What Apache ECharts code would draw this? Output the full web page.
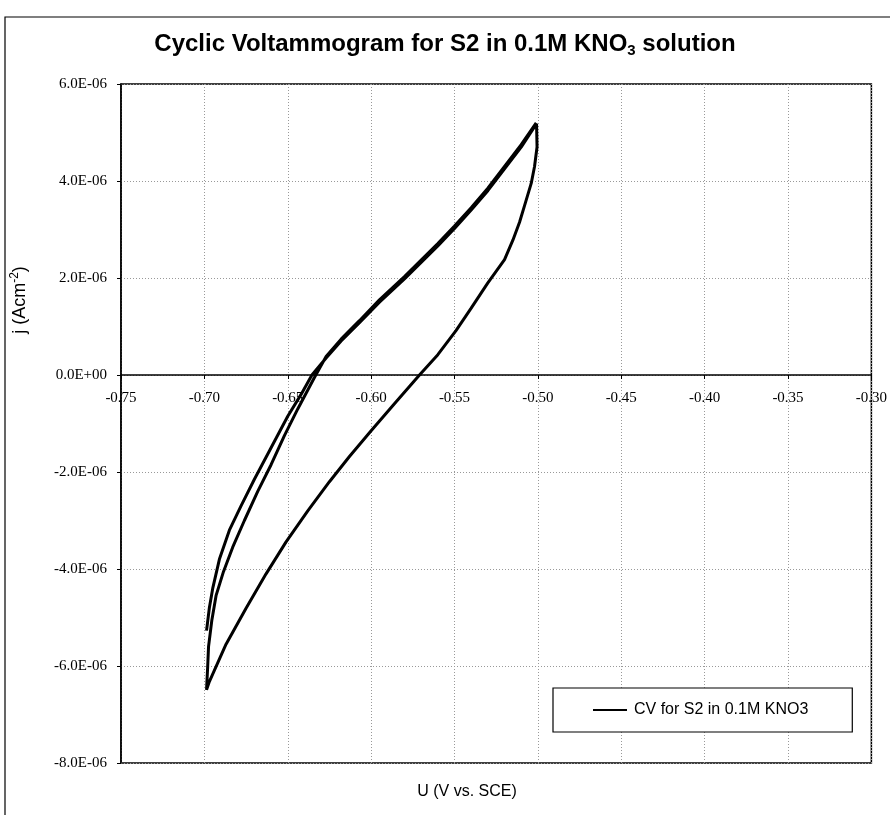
<!DOCTYPE html>
<html>
<head>
<meta charset="utf-8">
<script src="https://cdn.jsdelivr.net/npm/echarts@6/dist/echarts.min.js"></script>
<style>
html,body{margin:0;padding:0;background:#fff;}
#chart{width:890px;height:815px;}
</style>
</head>
<body>
<div id="chart"></div>
<script>
// Scan 1: forward sweep starting at -0.70 V (outer left trace) up to the -0.50 V vertex
const scan1U = [-0.6987,-0.6970,-0.6950,-0.6910,-0.6850,-0.6780,-0.6700,-0.6600,-0.6500,-0.6420,-0.6355,-0.6270,-0.6180,-0.6070,-0.5950,-0.5800,-0.5700,-0.5600,-0.5500,-0.5400,-0.5300,-0.5200,-0.5100,-0.5008];
const scan1J = [-5.27e-6,-4.80e-6,-4.40e-6,-3.80e-6,-3.20e-6,-2.70e-6,-2.15e-6,-1.50e-6,-0.85e-6,-0.40e-6,0,0.35e-6,0.70e-6,1.08e-6,1.50e-6,1.98e-6,2.32e-6,2.66e-6,3.02e-6,3.40e-6,3.80e-6,4.25e-6,4.70e-6,5.18e-6];
// Reverse sweep from -0.50 V down to -0.70 V
const revU = [-0.5005,-0.5020,-0.5040,-0.5075,-0.5110,-0.5150,-0.5200,-0.5300,-0.5400,-0.5490,-0.5600,-0.5710,-0.5850,-0.6000,-0.6130,-0.6250,-0.6380,-0.6510,-0.6630,-0.6750,-0.6870,-0.6970,-0.6987];
const revJ = [4.70e-6,4.30e-6,3.95e-6,3.55e-6,3.15e-6,2.78e-6,2.38e-6,1.90e-6,1.38e-6,0.92e-6,0.42e-6,0,-0.55e-6,-1.15e-6,-1.68e-6,-2.20e-6,-2.80e-6,-3.44e-6,-4.10e-6,-4.81e-6,-5.55e-6,-6.32e-6,-6.49e-6];
// Scan 2: forward sweep from -0.70 V (inner left trace) back to -0.50 V
const scan2U = [-0.6980,-0.6975,-0.6955,-0.6930,-0.6885,-0.6830,-0.6760,-0.6680,-0.6600,-0.6520,-0.6440,-0.6340,-0.6270,-0.6180,-0.6070,-0.5950,-0.5800,-0.5700,-0.5600,-0.5500,-0.5400,-0.5300,-0.5200,-0.5100,-0.5010];
const scan2J = [-6.00e-6,-5.60e-6,-5.05e-6,-4.55e-6,-4.05e-6,-3.55e-6,-3.00e-6,-2.40e-6,-1.85e-6,-1.25e-6,-0.70e-6,-0.05e-6,0.38e-6,0.74e-6,1.12e-6,1.55e-6,2.03e-6,2.37e-6,2.71e-6,3.07e-6,3.45e-6,3.85e-6,4.30e-6,4.75e-6,5.20e-6];

const xTicks = {min:-0.75, max:-0.30, step:0.05};
const yTicks = {min:-8e-6, max:6e-6, step:2e-6};
const seriesName = 'CV for S2 in 0.1M KNO3';
const xName = 'U (V vs. SCE)';

const data = [];
[[scan1U,scan1J],[revU,revJ],[scan2U,scan2J]].forEach(([u,j])=>{
  for(let i=0;i<u.length;i++) data.push([u[i], j[i]]);
});

function sci(v){
  if (Math.abs(v) < 1e-12) return '0.0E+00';
  let e = Math.floor(Math.log10(Math.abs(v)) + 1e-9);
  let m = v / Math.pow(10, e);
  let es = (e<0?'-':'+') + String(Math.abs(e)).padStart(2,'0');
  return m.toFixed(1) + 'E' + es;
}

const W = 890, H = 815;
const gTop = 84, gBottom = 52, gLeft = 121, gRight = 18;
const gridH = H - gTop - gBottom;
const zeroOffset = -gridH * (0 - yTicks.min) / (yTicks.max - yTicks.min);

const dotted = {show:true, lineStyle:{color:'#999', type:[1,2], width:1}};
const chart = echarts.init(document.getElementById('chart'), null, {renderer:'canvas'});
chart.setOption({
  backgroundColor:'#fff',
  animation:false,
  title:{
    text:'{t|Cyclic Voltammogram for S2 in 0.1M KNO}{s|3}{t| solution}',
    left:'center', top:26,
    textStyle:{
      rich:{
        t:{fontFamily:'Liberation Sans, Arial', fontWeight:'bold', fontSize:24, color:'#000'},
        s:{fontFamily:'Liberation Sans, Arial', fontWeight:'bold', fontSize:15, color:'#000', verticalAlign:'bottom', padding:[12,0,0,0]}
      }
    }
  },
  graphic:[
    {type:'rect', shape:{x:5, y:17, width:900, height:820},
     style:{fill:'none', stroke:'#000', lineWidth:1.2}, silent:true},
    {type:'text', x:467, y:792, style:{text:xName, fontFamily:'Liberation Sans, Arial', fontSize:16, fill:'#000', textAlign:'center', textVerticalAlign:'middle'}},
    {type:'text', x:20, y:300, rotation:Math.PI/2,
     style:{text:'{a|j (Acm}{b|-2}{a|)}', textAlign:'center', textVerticalAlign:'middle',
       rich:{a:{fontFamily:'Liberation Sans, Arial', fontSize:18, fill:'#000', color:'#000'},
             b:{fontFamily:'Liberation Sans, Arial', fontSize:12, fill:'#000', color:'#000', verticalAlign:'top', padding:[0,0,10,0]}}}}
  ],
  grid:{left:gLeft, right:gRight, top:gTop, bottom:gBottom, show:true, borderColor:'#000', borderWidth:1.5, backgroundColor:'transparent'},
  legend:{
    left:553, top:688,
    data:[{name:seriesName, icon:'rect'}],
    itemWidth:34, itemHeight:2, itemGap:0,
    padding:[14,44,14,40],
    borderColor:'#000', borderWidth:1.2, backgroundColor:'#fff',
    textStyle:{fontFamily:'Liberation Sans, Arial', fontSize:16, color:'#000', padding:[0,0,0,2]}
  },
  xAxis:[{
    type:'value', min:xTicks.min, max:xTicks.max, interval:xTicks.step,
    axisLine:{show:false}, axisTick:{show:false}, axisLabel:{show:false},
    splitLine:dotted
  },{
    type:'value', min:xTicks.min, max:xTicks.max, interval:xTicks.step,
    position:'bottom', offset:zeroOffset,
    axisLine:{show:true, onZero:false, lineStyle:{color:'#000', width:1.5}},
    axisTick:{show:true, inside:false, length:4, lineStyle:{color:'#000'}},
    axisLabel:{fontFamily:'Liberation Serif, Times New Roman', fontSize:15, color:'#000', margin:16,
      formatter:v=>v.toFixed(2)},
    splitLine:{show:false}
  }],
  yAxis:{
    type:'value', min:yTicks.min, max:yTicks.max, interval:yTicks.step,
    axisLine:{lineStyle:{color:'#000', width:1.5}},
    axisTick:{show:true, length:4, lineStyle:{color:'#000'}},
    axisLabel:{fontFamily:'Liberation Serif, Times New Roman', fontSize:15, color:'#000', margin:14, formatter:sci},
    splitLine:dotted
  },
  series:[{
    name:seriesName, type:'line', data:data, showSymbol:false, symbol:'none',
    xAxisIndex:0,
    lineStyle:{color:'#000', width:3}, itemStyle:{color:'#000'},
    smooth:false
  }]
});
</script>
</body>
</html>
